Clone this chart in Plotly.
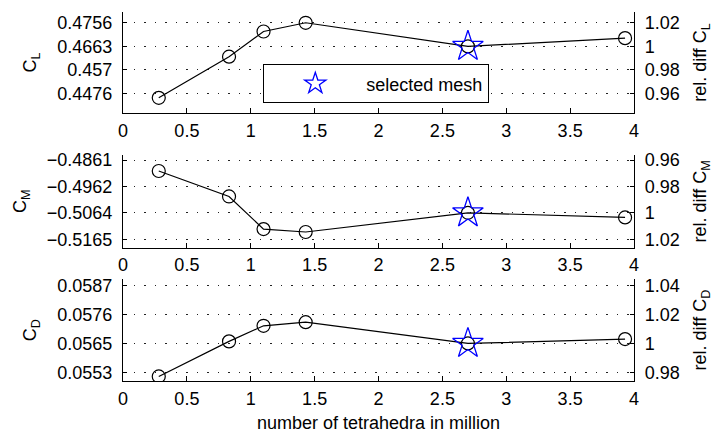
import plotly.graph_objects as go

# ---- data ----
mesh_million = [0.28, 0.83, 1.10, 1.43, 2.70, 3.93]
CL = [0.44596, 0.46223, 0.47217, 0.47562, 0.46629, 0.46955]
CM = [-0.49031, -0.50008, -0.51259, -0.51370, -0.50636, -0.50813]
CD = [0.05517, 0.05654, 0.05715, 0.05729, 0.05646, 0.05663]
selected_index = 4

x_ticks = [0, 0.5, 1, 1.5, 2, 2.5, 3, 3.5, 4]
x_ticktext = ["0", "0.5", "1", "1.5", "2", "2.5", "3", "3.5", "4"]

rel_ticks_L = [0.96, 0.98, 1.0, 1.02]
rel_text_L = ["0.96", "0.98", "1", "1.02"]
abs_text_L = ["0.4476", "0.457", "0.4663", "0.4756"]

rel_ticks_M = [0.96, 0.98, 1.0, 1.02]
rel_text_M = ["0.96", "0.98", "1", "1.02"]
abs_text_M = ["\u22120.4861", "\u22120.4962", "\u22120.5064", "\u22120.5165"]

rel_ticks_D = [0.98, 1.0, 1.02, 1.04]
rel_text_D = ["0.98", "1", "1.02", "1.04"]
abs_text_D = ["0.0553", "0.0565", "0.0576", "0.0587"]

# ---- layout parameters ----
FONT = "Liberation Sans, Arial, Helvetica, sans-serif"
FS = 18
W, H = 713, 433
ML, MR, MT, MB = 123, 79, 11, 52
plot_h = H - MT - MB

def dom(top_px, bot_px):
    return [(H - MB - bot_px) / plot_h, (H - MB - top_px) / plot_h]

panels = [
    dict(vals=CL, rel_ticks=rel_ticks_L, rel_text=rel_text_L, abs_text=abs_text_L,
         rel_range=[0.9433, 1.0294], dom=dom(11.7, 113.3), name="L"),
    dict(vals=CM, rel_ticks=rel_ticks_M, rel_text=rel_text_M, abs_text=abs_text_M,
         rel_range=[0.9562, 1.0264], dom=dom(155, 247.7), name="M"),
    dict(vals=CD, rel_ticks=rel_ticks_D, rel_text=rel_text_D, abs_text=abs_text_D,
         rel_range=[0.9740, 1.0444], dom=dom(279.3, 381), name="D"),
]

fig = go.Figure()
layout = dict(
    width=W, height=H,
    margin=dict(l=ML, r=MR, t=MT, b=MB, autoexpand=False),
    paper_bgcolor="white", plot_bgcolor="rgba(0,0,0,0)",
    font=dict(family=FONT, size=FS, color="black"),
    showlegend=True,
    legend=dict(x=(263 - ML) / (W - ML - MR), y=(H - MB - 64) / plot_h,
                xanchor="left", yanchor="top",
                bordercolor="black", borderwidth=1.3, bgcolor="white",
                font=dict(family=FONT, size=FS, color="black"),
                itemwidth=92, tracegroupgap=0),
)

for i, p in enumerate(panels):
    k = i + 1
    xa = "x" if k == 1 else f"x{k}"
    yl_n = 2 * i + 1
    yr_n = 2 * i + 2
    yl = "y" if yl_n == 1 else f"y{yl_n}"
    yr = f"y{yr_n}"
    vals = p["vals"]
    ref = vals[selected_index]
    rel = [v / ref for v in vals]

    # main line with circles
    fig.add_trace(go.Scatter(x=mesh_million, y=vals, mode="lines+markers",
                             line=dict(color="black", width=1.2),
                             marker=dict(symbol="circle-open", size=13,
                                         color="black", line=dict(width=1.2)),
                             showlegend=False, xaxis=xa, yaxis=yl,
                             hoverinfo="skip"))
    # selected mesh star
    fig.add_trace(go.Scatter(x=[mesh_million[selected_index]], y=[vals[selected_index]],
                             mode="markers",
                             marker=dict(symbol="star-open", size=23, color="#0000ff",
                                         line=dict(width=1.3, color="#0000ff")),
                             name="selected mesh", showlegend=(i == 0),
                             xaxis=xa, yaxis=yl, hoverinfo="skip"))
    # relative values on the right axis (invisible, carries the right scale)
    fig.add_trace(go.Scatter(x=mesh_million, y=rel, mode="markers",
                             marker=dict(opacity=0, size=1),
                             showlegend=False, xaxis=xa, yaxis=yr,
                             hoverinfo="skip"))

    lo, hi = p["rel_range"]
    abs_range = sorted([ref * lo, ref * hi])
    right_range = [lo, hi] if ref > 0 else [hi, lo]

    xkey = "xaxis" if k == 1 else f"xaxis{k}"
    layout[xkey] = dict(
        domain=[0, 1], anchor=yl, range=[0, 4],
        tickvals=x_ticks, ticktext=x_ticktext,
        ticks="inside", ticklen=5, tickwidth=1.2, tickcolor="black",
        showline=True, linecolor="black", linewidth=1.3,
        showgrid=False, zeroline=False, automargin=False,
        tickfont=dict(family=FONT, size=FS, color="black"),
        ticklabelstandoff=1,
    )
    if k == 3:
        layout[xkey]["title"] = dict(text="number of tetrahedra in million",
                                     font=dict(family=FONT, size=FS, color="black"),
                                     standoff=11)
    ylkey = "yaxis" if yl_n == 1 else f"yaxis{yl_n}"
    layout[ylkey] = dict(
        domain=p["dom"], anchor=xa, range=abs_range,
        tickvals=[ref * t for t in p["rel_ticks"]], ticktext=p["abs_text"],
        ticks="inside", ticklen=4, tickwidth=1.2, tickcolor="black",
        showline=True, linecolor="black", linewidth=1.3,
        showgrid=True, gridcolor="#222222", gridwidth=1, griddash="1.5px,9px",
        zeroline=False, automargin=False,
        tickfont=dict(family=FONT, size=FS, color="black"),
        ticklabelstandoff=6,
        title=dict(text=f"C<sub>{p['name']}</sub>",
                   font=dict(family=FONT, size=FS, color="black")),
    )
    layout[f"yaxis{yr_n}"] = dict(
        overlaying=yl, side="right", anchor=xa, range=right_range,
        tickvals=p["rel_ticks"], ticktext=p["rel_text"],
        ticks="inside", ticklen=4, tickwidth=1.2, tickcolor="black",
        showline=True, linecolor="black", linewidth=1.3,
        showgrid=False, zeroline=False, automargin=False,
        tickfont=dict(family=FONT, size=FS, color="black"),
        ticklabelstandoff=6,
        title=dict(text=f"rel. diff C<sub>{p['name']}</sub>",
                   font=dict(family=FONT, size=FS, color="black")),
    )

fig.update_layout(**layout)
fig.write_html("out.html", config={"displayModeBar": False})

# remove the default page margin so the figure sits at the window's corner
with open("out.html", "r", encoding="utf-8") as f:
    html = f.read()
html = html.replace("<head>", "<head><style>html,body{margin:0;padding:0;overflow:hidden;}</style>", 1)
with open("out.html", "w", encoding="utf-8") as f:
    f.write(html)
